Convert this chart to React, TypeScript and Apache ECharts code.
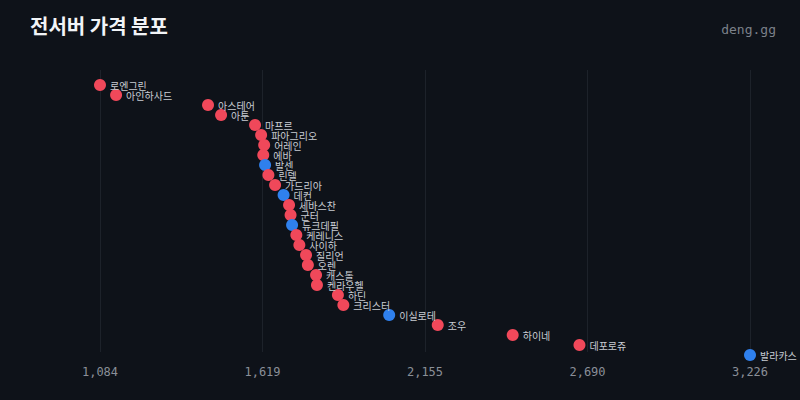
import React, { useEffect, useRef } from "react";
import * as echarts from "echarts";

// servers from cheapest to most expensive
const servers = [
  "로엔그린", "아인하사드", "아스테어", "아툰", "마프르", "파아그리오", "어레인", "에바",
  "발센", "린델", "가드리아", "데컨", "세바스찬", "군터", "듀크데필", "케레니스",
  "사이하", "질리언", "오렌", "캐스톨", "켄라우헬", "하딘", "크리스터", "이실로테",
  "조우", "하이네", "데포로쥬", "발라카스",
];
const prices = [
  1084, 1137, 1440, 1483, 1595, 1615, 1625, 1622,
  1628, 1639, 1661, 1689, 1707, 1712, 1717, 1731,
  1741, 1763, 1769, 1796, 1799, 1868, 1886, 2037,
  2197, 2444, 2664, 3226,
];
const blueServers = ["발센", "데컨", "듀크데필", "이실로테", "발라카스"];

const xMin = 1084;
const xMax = 3226;

const RED = "#f0485a";
const BLUE = "#2f80ed";

const App = () => {
  const chartRef = useRef<HTMLDivElement>(null);

  useEffect(() => {
    const chart = echarts.init(chartRef.current, null, { renderer: "svg" });

    const data = servers.map((name, i) => ({
      name,
      value: [prices[i], i],
      itemStyle: { color: blueServers.includes(name) ? BLUE : RED, opacity: 1 },
    }));

    chart.setOption({
      animation: false,
      backgroundColor: "#0e1219",
      textStyle: { fontFamily: "'Noto Sans CJK KR', 'Noto Sans', sans-serif" },
      graphic: [
        {
          type: "text",
          left: 30,
          top: 15,
          style: {
            text: "전서버 가격 분포",
            fill: "#f2f4f7",
            fontSize: 20,
            fontWeight: "bold",
            fontFamily: "'Noto Sans CJK KR', sans-serif",
          },
        },
        {
          type: "text",
          right: 24,
          top: 23,
          style: {
            text: "deng.gg",
            fill: "#7c818a",
            fontSize: 13,
            fontFamily: "'DejaVu Sans Mono', monospace",
          },
        },
      ],
      grid: { left: 100, right: 50, top: 70, bottom: 48 },
      xAxis: {
        type: "value",
        min: xMin,
        max: xMax,
        interval: (xMax - xMin) / 4,
        axisLine: { show: false },
        axisTick: { show: false },
        splitLine: { lineStyle: { color: "#1d222a", width: 1 } },
        axisLabel: {
          color: "#8a8f98",
          fontSize: 12,
          margin: 14,
          fontFamily: "'DejaVu Sans Mono', monospace",
          formatter: (v: number) => Math.floor(v).toLocaleString("en-US"),
        },
      },
      yAxis: {
        type: "value",
        inverse: true,
        min: -1.5,
        max: 26.7,
        show: false,
      },
      series: [
        {
          type: "scatter",
          symbolSize: 12,
          clip: false,
          data,
          label: {
            show: true,
            position: "right",
            distance: 4,
            formatter: "{b}",
            color: "#c9cdd3",
            fontSize: 10,
            fontFamily: "'Noto Sans CJK KR', sans-serif",
          },
          labelLayout: { hideOverlap: false },
        },
      ],
    });

    return () => {
      chart.dispose();
    };
  }, []);

  return (
    <div
      ref={chartRef}
      style={{ position: "fixed", left: 0, top: 0, width: 800, height: 400 }}
    />
  );
};

export default App;
